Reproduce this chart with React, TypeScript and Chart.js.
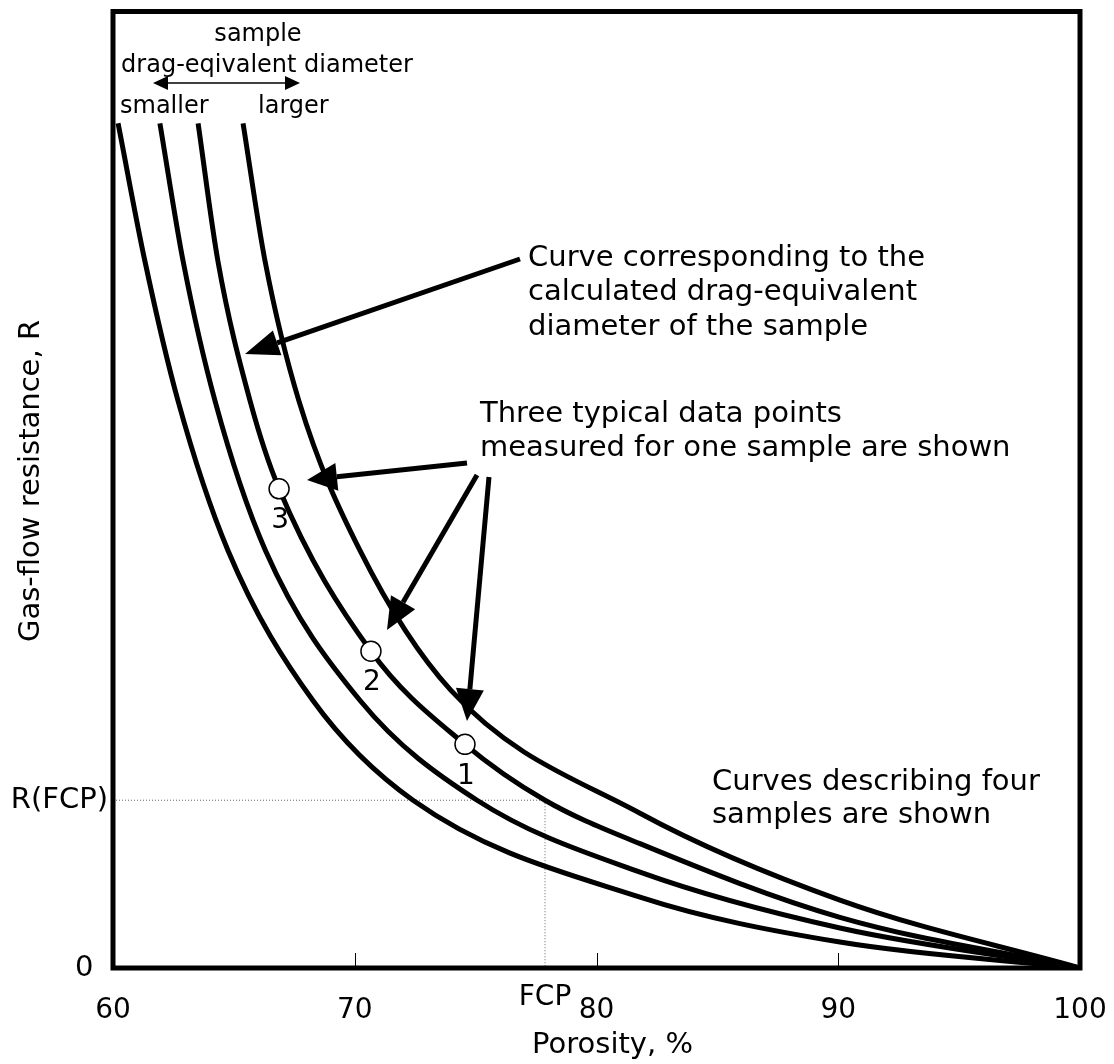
import React, { useEffect, useRef } from 'react';
import { Chart, registerables } from 'chart.js';

Chart.register(...registerables);

// ---- data ----
const X_MIN = 60;
const X_MAX = 100;
const Y_MIN = 0;
const Y_MAX = 100;
const X_TICKS = [60, 70, 80, 90, 100];
const INNER_TICKS = [70, 80, 90];
const FCP = 77.87;
const R_FCP = 17.54;
const Y_TICKS = [0, R_FCP];
const Y_TICK_LABELS = ['0\u2002', 'R(FCP)'];

const curve1X = [60.21, 61.32, 62.69, 64.76, 68.27, 72.41, 81.8, 90.07, 100];
const curve1Y = [88.31, 73.9, 59.29, 43.63, 27.97, 17.54, 7.41, 2.71, 0];

const curve2X = [61.94, 62.9, 64.22, 66.31, 70.22, 75.06, 81.8, 90.07, 100];
const curve2Y = [88.31, 73.9, 59.29, 43.63, 27.97, 17.54, 10.02, 4.18, 0];

const curve3X = [63.52, 64.34, 65.67, 66.87, 70.67, 74.56, 77.87, 81.8, 90.07, 100];
const curve3Y = [88.31, 73.9, 59.29, 50.1, 33.12, 23.38, 17.54, 13.0, 5.3, 0];

const curve4X = [65.38, 66.29, 67.69, 70.22, 73.98, 81.8, 90.07, 100];
const curve4Y = [88.31, 73.9, 59.29, 43.63, 29.02, 16.18, 7.1, 0];

const pointsX = [74.56, 70.67, 66.87];
const pointsY = [23.38, 33.12, 50.1];
const pointLabels = ['1', '2', '3'];

const FONT = '"DejaVu Sans", Verdana, sans-serif';

const toXY = (xs: number[], ys: number[]) => xs.map((x, i) => ({ x, y: ys[i] }));

function drawArrow(ctx: CanvasRenderingContext2D, x1: number, y1: number, x2: number, y2: number, lw: number, L: number, hw: number) {
  const a = Math.atan2(y2 - y1, x2 - x1);
  const bx = x2 - L * Math.cos(a);
  const by = y2 - L * Math.sin(a);
  ctx.lineWidth = lw;
  ctx.beginPath();
  ctx.moveTo(x1, y1);
  ctx.lineTo(bx, by);
  ctx.stroke();
  ctx.beginPath();
  ctx.moveTo(x2, y2);
  ctx.lineTo(bx + hw * Math.sin(a), by - hw * Math.cos(a));
  ctx.lineTo(bx - hw * Math.sin(a), by + hw * Math.cos(a));
  ctx.closePath();
  ctx.fill();
}

const annotPlugin = {
  id: 'annot',
  afterDatasetsDraw(chart: any) {
    const ctx: CanvasRenderingContext2D = chart.ctx;
    const { left, top, right, bottom } = chart.chartArea;
    const xs = chart.scales.x;
    const ys = chart.scales.y;
    ctx.save();
    ctx.strokeStyle = '#000';
    ctx.fillStyle = '#000';

    // inner tick marks
    ctx.lineWidth = 1;
    INNER_TICKS.forEach((v) => {
      const px = Math.round(xs.getPixelForValue(v)) + 0.5;
      ctx.beginPath();
      ctx.moveTo(px, bottom);
      ctx.lineTo(px, bottom - 15);
      ctx.stroke();
    });

    // frame
    ctx.lineWidth = 5;
    ctx.strokeRect(left, top, right - left, bottom - top);

    // point labels
    ctx.font = `28px ${FONT}`;
    ctx.textAlign = 'center';
    ctx.textBaseline = 'middle';
    pointsX.forEach((v, i) => {
      ctx.fillText(pointLabels[i], xs.getPixelForValue(v) + 1, ys.getPixelForValue(pointsY[i]) + 32);
    });

    // FCP label
    ctx.font = `28px ${FONT}`;
    ctx.fillText('FCP', xs.getPixelForValue(FCP), bottom + 30);

    // x-axis title
    ctx.font = `29px ${FONT}`;
    ctx.fillText('Porosity, %', (left + right) / 2 + 16, bottom + 77);

    // y-axis title
    ctx.save();
    ctx.font = `29px ${FONT}`;
    ctx.textAlign = 'center';
    ctx.textBaseline = 'middle';
    ctx.translate(31, 481);
    ctx.rotate(-Math.PI / 2);
    ctx.fillText('Gas-flow resistance, R', 0, 0);
    ctx.restore();

    // top legend block
    ctx.font = `24px ${FONT}`;
    ctx.textBaseline = 'alphabetic';
    ctx.textAlign = 'center';
    ctx.fillText('sample', 258, 41);
    ctx.fillText('drag-eqivalent diameter', 267, 72);
    ctx.textAlign = 'left';
    ctx.fillText('smaller', 120, 113);
    ctx.fillText('larger', 258, 113);
    drawArrow(ctx, 226, 83, 153, 83, 1.5, 15, 7);
    drawArrow(ctx, 226, 83, 300, 83, 1.5, 15, 7);

    // annotations
    ctx.font = `29px ${FONT}`;
    ctx.textAlign = 'left';
    ctx.fillText('Curve corresponding to the', 528, 266);
    ctx.fillText('calculated drag-equivalent', 528, 300);
    ctx.fillText('diameter of the sample', 528, 335);
    ctx.fillText('Three typical data points', 480, 422);
    ctx.fillText('measured for one sample are shown', 480, 456);
    ctx.fillText('Curves describing four', 712, 790);
    ctx.fillText('samples are shown', 712, 823);

    // arrows
    drawArrow(ctx, 520, 259, 245, 354, 5, 34, 13);
    drawArrow(ctx, 467, 463, 307, 480, 5, 30, 14);
    drawArrow(ctx, 477, 475, 387, 630, 5, 32, 14);
    drawArrow(ctx, 489, 477, 467, 721, 5, 32, 14);

    ctx.restore();
  },
};

export default function App() {
  const canvasRef = useRef<HTMLCanvasElement | null>(null);

  useEffect(() => {
    if (!canvasRef.current) return;
    const curveStyle = {
      showLine: true,
      borderColor: '#000',
      borderWidth: 5,
      pointRadius: 0,
      cubicInterpolationMode: 'monotone' as const,
      fill: false,
      order: 2,
    };
    const chart = new Chart(canvasRef.current, {
      type: 'scatter',
      data: {
        datasets: [
          {
            label: 'points',
            data: toXY(pointsX, pointsY),
            showLine: false,
            pointRadius: 10,
            pointBackgroundColor: '#fff',
            pointBorderColor: '#000',
            pointBorderWidth: 1.5,
            order: 0,
          },
          { label: 'c1', data: toXY(curve1X, curve1Y), ...curveStyle },
          { label: 'c2', data: toXY(curve2X, curve2Y), ...curveStyle },
          { label: 'c3', data: toXY(curve3X, curve3Y), ...curveStyle },
          { label: 'c4', data: toXY(curve4X, curve4Y), ...curveStyle },
          {
            label: 'fcp',
            data: [
              { x: X_MIN, y: R_FCP },
              { x: FCP, y: R_FCP },
              { x: FCP, y: 0 },
            ],
            showLine: true,
            borderColor: '#666',
            borderWidth: 1,
            borderDash: [1, 2],
            pointRadius: 0,
            order: 3,
          },
        ],
      },
      options: {
        animation: false,
        responsive: true,
        maintainAspectRatio: false,
        layout: { padding: { top: 10, right: 34, left: 0, bottom: 0 } },
        plugins: { legend: { display: false }, tooltip: { enabled: false } },
        scales: {
          x: {
            type: 'linear',
            min: X_MIN,
            max: X_MAX,
            afterFit: (s: any) => { s.height = 96; s.paddingLeft = 0; s.paddingRight = 0; },
            afterBuildTicks: (s: any) => { s.ticks = X_TICKS.map((v) => ({ value: v })); },
            grid: { display: false, drawTicks: false },
            border: { display: false },
            ticks: { color: '#000', font: { family: FONT, size: 28 }, padding: 26, maxRotation: 0 },
            title: { display: false },
          },
          y: {
            type: 'linear',
            min: Y_MIN,
            max: Y_MAX,
            afterFit: (s: any) => { s.width = 113; s.paddingTop = 0; s.paddingBottom = 0; },
            afterBuildTicks: (s: any) => { s.ticks = Y_TICKS.map((v) => ({ value: v })); },
            grid: { display: false, drawTicks: false },
            border: { display: false },
            ticks: {
              color: '#000',
              font: { family: FONT, size: 29 },
              padding: 5,
              callback: (v: any) => Y_TICK_LABELS[Y_TICKS.indexOf(Number(v))] ?? '',
            },
            title: { display: false },
          },
        },
      },
      plugins: [annotPlugin],
    });
    return () => chart.destroy();
  }, []);

  return (
    <div style={{ position: 'absolute', left: 0, top: 0, width: 1114, height: 1064, background: '#fff' }}>
      <canvas ref={canvasRef} />
    </div>
  );
}
